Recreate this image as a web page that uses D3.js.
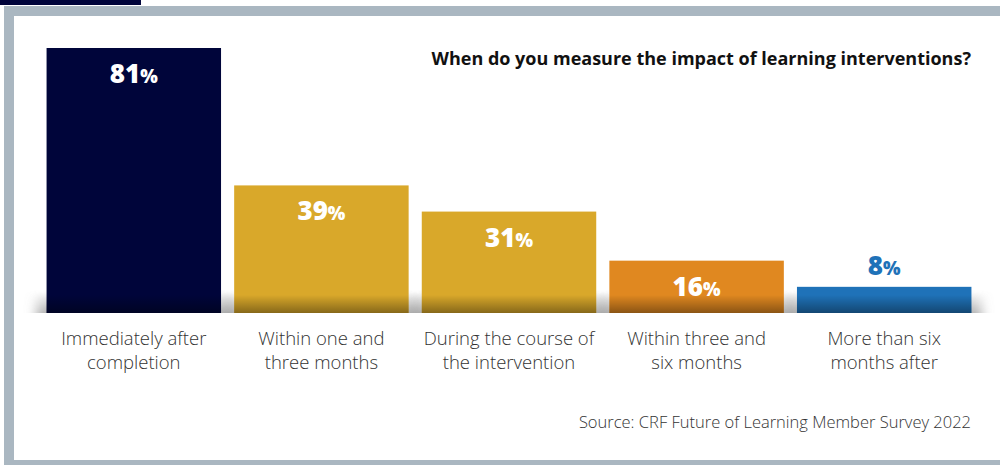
<!DOCTYPE html>
<html>
<head>
<meta charset="utf-8">
<script src="https://cdn.jsdelivr.net/npm/d3@7"></script>
<style>
  html, body { margin: 0; padding: 0; background: #fff; }
  svg { display: block; }
</style>
</head>
<body>
<svg id="chart" width="1000" height="465"></svg>
<script>
// Survey responses: timing of impact measurement
const categories = [
  ["Immediately after", "completion"],
  ["Within one and", "three months"],
  ["During the course of", "the intervention"],
  ["Within three and", "six months"],
  ["More than six", "months after"]
];
const values = [81, 39, 31, 16, 8];
const barColors = ["#00053a", "#d9a82a", "#d9a82a", "#e08820", "#1f72b8"];
const title = "When do you measure the impact of learning interventions?";
const source = "Source: CRF Future of Learning Member Survey 2022";

const svg = d3.select("#chart");
const W = 1000, H = 465;

// Frame: dark tab, grey top/left/bottom border
svg.append("rect").attr("x", 0).attr("y", 0).attr("width", 141).attr("height", 5).attr("fill", "#00033a");
svg.append("rect").attr("x", 4).attr("y", 6).attr("width", W - 4).attr("height", 10).attr("fill", "#aab7c1");
svg.append("rect").attr("x", 4).attr("y", 6).attr("width", 10).attr("height", 454).attr("fill", "#aab7c1");
svg.append("rect").attr("x", 4).attr("y", 460).attr("width", W - 4).attr("height", 5).attr("fill", "#aab7c1");

const baseline = 313;
const x = d3.scaleBand()
  .domain(d3.range(values.length))
  .range([40, 978])
  .paddingInner(0.07)
  .paddingOuter(0.035);
const y = d3.scaleLinear().domain([0, 81]).range([baseline, 48]);

const defs = svg.append("defs");
const shadeGrad = defs.append("linearGradient").attr("id", "shade").attr("x1", 0).attr("y1", 0).attr("x2", 0).attr("y2", 1);
shadeGrad.append("stop").attr("offset", "0%").attr("stop-color", "#000").attr("stop-opacity", 0);
shadeGrad.append("stop").attr("offset", "100%").attr("stop-color", "#000").attr("stop-opacity", 0.38);
const groundGrad = defs.append("linearGradient").attr("id", "ground").attr("x1", 0).attr("y1", 0).attr("x2", 0).attr("y2", 1);
groundGrad.append("stop").attr("offset", "0%").attr("stop-color", "#888").attr("stop-opacity", 0);
groundGrad.append("stop").attr("offset", "100%").attr("stop-color", "#888").attr("stop-opacity", 0.75);
defs.append("filter").attr("id", "hblur").attr("x", "-20%").attr("y", "-50%").attr("width", "140%").attr("height", "200%")
  .append("feGaussianBlur").attr("stdDeviation", "6 1");
defs.append("clipPath").attr("id", "aboveBase")
  .append("rect").attr("x", 0).attr("y", 0).attr("width", W).attr("height", baseline);

// Soft ground shadow behind the bars
svg.append("g").attr("clip-path", "url(#aboveBase)")
  .selectAll("rect").data(values).join("rect")
  .attr("x", (d, i) => x(i) - 10)
  .attr("width", x.bandwidth() + 20)
  .attr("y", baseline - 22)
  .attr("height", 26)
  .attr("fill", "url(#ground)")
  .attr("filter", "url(#hblur)");

// Bars
const bars = svg.append("g");
bars.selectAll("rect.bar").data(values).join("rect")
  .attr("class", "bar")
  .attr("x", (d, i) => x(i))
  .attr("width", x.bandwidth())
  .attr("y", d => y(d))
  .attr("height", d => baseline - y(d))
  .attr("fill", (d, i) => barColors[i]);

// Darkened foot of each bar
bars.selectAll("rect.foot").data(values).join("rect")
  .attr("class", "foot")
  .attr("x", (d, i) => x(i))
  .attr("width", x.bandwidth())
  .attr("y", d => Math.max(y(d), baseline - 18))
  .attr("height", d => Math.min(baseline - y(d), 18))
  .attr("fill", "url(#shade)");

// Value labels: inside the bar when it is tall enough, above it otherwise
const labelFont = "'Open Sans', sans-serif";
const valueLabels = svg.append("g").selectAll("text").data(values).join("text")
  .attr("x", (d, i) => x(i) + x.bandwidth() / 2)
  .attr("y", d => (baseline - y(d) > 40 ? y(d) + 35 : y(d) - 12))
  .attr("text-anchor", "middle")
  .attr("font-family", labelFont)
  .attr("font-weight", 800)
  .attr("fill", (d, i) => (baseline - y(d) > 40 ? "#fff" : barColors[i]));
valueLabels.append("tspan").attr("font-size", 26).text(d => d);
valueLabels.append("tspan").attr("font-size", 18.5).text("%");

// Category labels (two lines each)
const catFont = "'Open Sans', sans-serif";
svg.append("g").selectAll("text").data(categories).join("text")
  .attr("x", (d, i) => x(i) + x.bandwidth() / 2)
  .attr("y", 345)
  .attr("text-anchor", "middle")
  .attr("font-family", catFont)
  .attr("font-weight", 300)
  .attr("font-size", 18.5)
  .attr("fill", "#333")
  .each(function(d) {
    const t = d3.select(this);
    d.forEach((line, k) => {
      t.append("tspan").attr("x", t.attr("x")).attr("dy", k === 0 ? 0 : 24).text(line);
    });
  });

// Title
svg.append("text")
  .attr("x", 971).attr("y", 65)
  .attr("text-anchor", "end")
  .attr("font-family", "'Open Sans', sans-serif")
  .attr("font-weight", 700)
  .attr("font-size", 18)
  .attr("fill", "#111")
  .text(title);

// Source note
svg.append("text")
  .attr("x", 971).attr("y", 428)
  .attr("text-anchor", "end")
  .attr("font-family", catFont)
  .attr("font-weight", 300)
  .attr("font-size", 16.5)
  .attr("fill", "#333")
  .text(source);
</script>
</body>
</html>
